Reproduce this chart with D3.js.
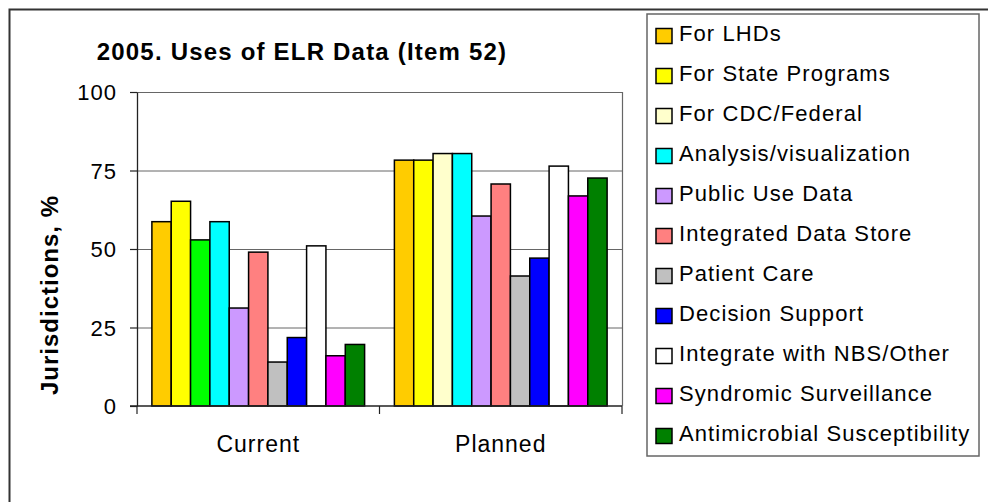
<!DOCTYPE html>
<html>
<head>
<meta charset="utf-8">
<script src="https://cdn.jsdelivr.net/npm/d3@7"></script>
<style>
  body { margin: 0; background: #fff; }
  svg { display: block; font-family: "Liberation Sans", Arial, sans-serif; }
</style>
</head>
<body>
<svg id="chart" width="988" height="502"></svg>
<script>
(function() {
  // categories on the x axis
  var categories = ["Current", "Planned"];

  // series names (legend order)
  var seriesNames = [
    "For LHDs", "For State Programs", "For CDC/Federal", "Analysis/visualization",
    "Public Use Data", "Integrated Data Store", "Patient Care", "Decision Support",
    "Integrate with NBS/Other", "Syndromic Surveillance", "Antimicrobial Susceptibility"
  ];

  // percent of jurisdictions
  var currentValues = [58.7, 65.2, 52.9, 58.7, 31.2, 49.0, 14.0, 21.8, 51.0, 16.0, 19.6];
  var plannedValues = [78.3, 78.3, 80.4, 80.4, 60.5, 70.7, 41.4, 47.1, 76.4, 66.9, 72.6];

  var yTicks = [0, 25, 50, 75, 100];

  var colors = ["#FFCC00", "#FFFF00", "#FFFFCC", "#00FFFF", "#CC99FF", "#FF8080",
                "#C0C0C0", "#0000FF", "#FFFFFF", "#FF00FF", "#008000"];
  // the CDC/Federal bar in "Current" was drawn green in the original
  var overrideColor = {"Current|For CDC/Federal": "#00FF00"};

  var svg = d3.select("#chart");

  var plot = {left: 137, right: 622, top: 92, bottom: 406};

  // outer frame
  svg.append("path")
    .attr("d", "M9.5,502 V9.5 H988")
    .attr("fill", "none")
    .attr("stroke", "#333")
    .attr("stroke-width", 2);

  var x0 = d3.scaleBand().domain(categories).range([plot.left, plot.right]);
  var x1 = d3.scaleBand().domain(seriesNames).range([0, x0.bandwidth()]).paddingOuter(0.77);
  var y = d3.scaleLinear().domain([0, 100]).range([plot.bottom, plot.top]);

  // gridlines
  svg.append("g").selectAll("line")
    .data(yTicks.filter(function(d) { return d > 0 && d < 100; }))
    .join("line")
      .attr("x1", plot.left).attr("x2", plot.right)
      .attr("y1", function(d) { return y(d) + 0.5; })
      .attr("y2", function(d) { return y(d) + 0.5; })
      .attr("stroke", "#666").attr("stroke-width", 1);

  // plot area border (top + right)
  svg.append("path")
    .attr("d", "M" + plot.left + "," + (plot.top + 0.5) + " H" + (plot.right + 0.5) + " V" + plot.bottom)
    .attr("fill", "none").attr("stroke", "#666").attr("stroke-width", 1.2);

  var rows = categories.map(function(c, i) {
    var vals = i === 0 ? currentValues : plannedValues;
    return {cat: c, vals: vals};
  });

  var groups = svg.append("g").selectAll("g")
    .data(rows)
    .join("g")
      .attr("transform", function(d) { return "translate(" + x0(d.cat) + ",0)"; });

  groups.selectAll("rect")
    .data(function(d) {
      return d.vals.map(function(v, j) { return {cat: d.cat, name: seriesNames[j], idx: j, value: v}; });
    })
    .join("rect")
      .attr("x", function(d) { return x1(d.name); })
      .attr("y", function(d) { return y(d.value); })
      .attr("width", x1.bandwidth())
      .attr("height", function(d) { return y(0) - y(d.value); })
      .attr("fill", function(d) { return overrideColor[d.cat + "|" + d.name] || colors[d.idx]; })
      .attr("stroke", "#000")
      .attr("stroke-width", 1.5);

  // y axis
  var yAxis = svg.append("g")
    .attr("transform", "translate(" + plot.left + ",0)")
    .call(d3.axisLeft(y).tickValues(yTicks).tickSize(7).tickPadding(13).tickSizeOuter(0));
  yAxis.select(".domain").attr("stroke", "#222").attr("stroke-width", 1.3);
  yAxis.selectAll(".tick line").attr("stroke", "#222").attr("stroke-width", 1.2);
  yAxis.selectAll("text")
    .attr("fill", "#000").style("font-size", "22px").style("letter-spacing", "1px")
    .attr("dy", "0.36em");

  // x axis line + boundary ticks
  svg.append("line")
    .attr("x1", plot.left - 7).attr("x2", plot.right)
    .attr("y1", plot.bottom).attr("y2", plot.bottom)
    .attr("stroke", "#222").attr("stroke-width", 1.5);
  var bounds = categories.map(function(c) { return x0(c); }).concat([plot.right]);
  svg.append("g").selectAll("line")
    .data(bounds)
    .join("line")
      .attr("x1", function(d) { return d; }).attr("x2", function(d) { return d; })
      .attr("y1", plot.bottom).attr("y2", plot.bottom + 8)
      .attr("stroke", "#222").attr("stroke-width", 1.2);

  var xAxis = svg.append("g")
    .attr("transform", "translate(0," + plot.bottom + ")")
    .call(d3.axisBottom(x0).tickSize(0).tickPadding(30));
  xAxis.select(".domain").remove();
  xAxis.selectAll("text")
    .attr("fill", "#000").style("font-size", "23px").style("letter-spacing", "1px");

  // y axis title
  svg.append("text")
    .attr("transform", "translate(58,295) rotate(-90)")
    .attr("text-anchor", "middle")
    .style("font-size", "24px").style("font-weight", "bold").style("letter-spacing", "1px")
    .text("Jurisdictions, %");

  // chart title
  svg.append("text")
    .attr("x", 302).attr("y", 60)
    .attr("text-anchor", "middle")
    .style("font-size", "24px").style("font-weight", "bold").style("letter-spacing", "1.2px")
    .text("2005. Uses of ELR Data (Item 52)");

  // legend
  var legend = svg.append("g");
  legend.append("rect")
    .attr("x", 647).attr("y", 14).attr("width", 332).attr("height", 442)
    .attr("fill", "#fff").attr("stroke", "#666").attr("stroke-width", 1.5);

  var items = legend.selectAll("g.item")
    .data(seriesNames)
    .join("g")
      .attr("class", "item")
      .attr("transform", function(d, i) { return "translate(656," + (36 + i * 40) + ")"; });

  items.append("rect")
    .attr("x", 0).attr("y", -7.5).attr("width", 16).attr("height", 15)
    .attr("fill", function(d, i) { return colors[i]; })
    .attr("stroke", "#000").attr("stroke-width", 1.5);

  items.append("text")
    .attr("x", 23).attr("y", 5)
    .style("font-size", "22px").style("letter-spacing", "1.1px")
    .text(function(d) { return d; });
})();
</script>
</body>
</html>
